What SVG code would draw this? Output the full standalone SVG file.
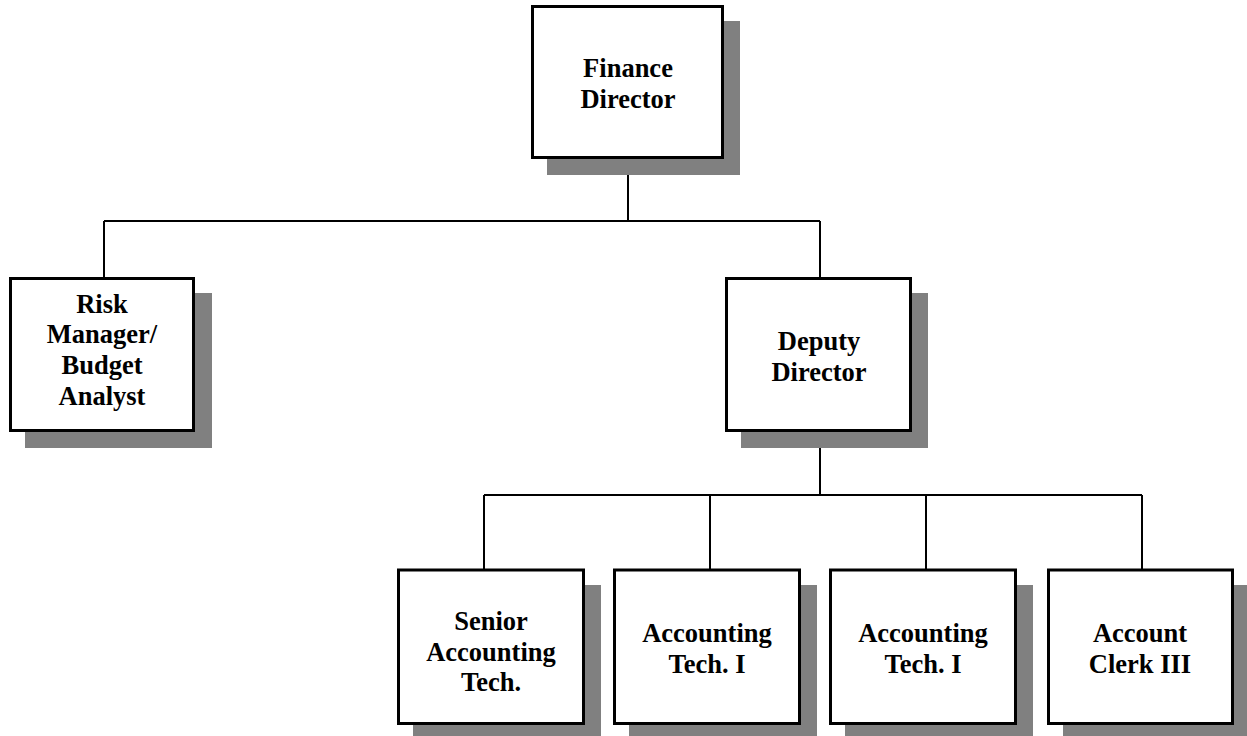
<svg xmlns="http://www.w3.org/2000/svg" width="1247" height="736" viewBox="0 0 1247 736">
  <style>
    .shadow { fill: #808080; }
    .box { fill: #ffffff; stroke: #000000; stroke-width: 3; }
    .label { font-family: "Liberation Serif", "Times New Roman", serif; font-weight: bold; font-size: 26.5px; fill: #000000; text-anchor: middle; }
    .link { fill: none; stroke: #000000; stroke-width: 2; }
  </style>
  <rect width="1247" height="736" fill="#ffffff"/>

  <g id="connectors">
    <path class="link" d="M628 158 V221 M104 221 H820 M104 221 V278 M820 221 V278"/>
    <path class="link" d="M820 431 V495 M484 495 H1142 M484 495 V570 M710 495 V570 M926 495 V570 M1142 495 V570"/>
  </g>

  <g id="finance-director">
    <rect class="shadow" x="547" y="21" width="193" height="154"/>
    <rect class="box" x="532.5" y="6.5" width="190" height="151"/>
    <text class="label" x="628" y="77">Finance</text>
    <text class="label" x="628" y="108">Director</text>
  </g>

  <g id="risk-manager">
    <rect class="shadow" x="25" y="293" width="187" height="155"/>
    <rect class="box" x="10.5" y="278.5" width="183" height="152"/>
    <text class="label" x="102" y="312.5">Risk</text>
    <text class="label" x="102" y="343">Manager/</text>
    <text class="label" x="102" y="374">Budget</text>
    <text class="label" x="102" y="404.5">Analyst</text>
  </g>

  <g id="deputy-director">
    <rect class="shadow" x="741" y="293" width="187" height="155"/>
    <rect class="box" x="726.5" y="278.5" width="184" height="152"/>
    <text class="label" x="819" y="350">Deputy</text>
    <text class="label" x="819" y="381">Director</text>
  </g>

  <g id="senior-accounting-tech">
    <rect class="shadow" x="413" y="585" width="188" height="160"/>
    <rect class="box" x="398.5" y="570" width="185" height="153.5"/>
    <text class="label" x="491" y="629.5">Senior</text>
    <text class="label" x="491" y="660.5">Accounting</text>
    <text class="label" x="491" y="691">Tech.</text>
  </g>

  <g id="accounting-tech-1">
    <rect class="shadow" x="629" y="585" width="188" height="160"/>
    <rect class="box" x="614.5" y="570" width="185" height="153.5"/>
    <text class="label" x="707" y="642">Accounting</text>
    <text class="label" x="707" y="673">Tech. I</text>
  </g>

  <g id="accounting-tech-2">
    <rect class="shadow" x="845" y="585" width="188" height="160"/>
    <rect class="box" x="830.5" y="570" width="185" height="153.5"/>
    <text class="label" x="923" y="642">Accounting</text>
    <text class="label" x="923" y="673">Tech. I</text>
  </g>

  <g id="account-clerk">
    <rect class="shadow" x="1063" y="585" width="188" height="160"/>
    <rect class="box" x="1048.5" y="570" width="184" height="153.5"/>
    <text class="label" x="1140" y="642">Account</text>
    <text class="label" x="1140" y="673">Clerk III</text>
  </g>
</svg>
